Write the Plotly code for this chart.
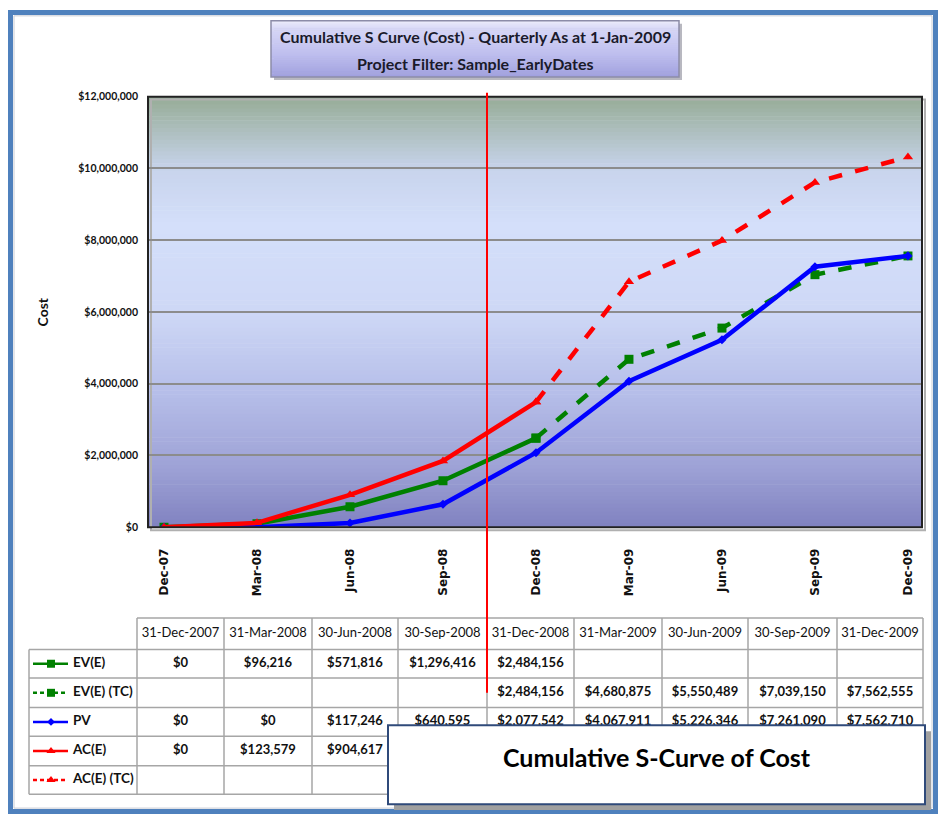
import plotly.graph_objects as go

# ---------------- data ----------------
x_labels = ["Dec-07", "Mar-08", "Jun-08", "Sep-08", "Dec-08", "Mar-09", "Jun-09", "Sep-09", "Dec-09"]
date_headers = ["31-Dec-2007", "31-Mar-2008", "30-Jun-2008", "30-Sep-2008", "31-Dec-2008",
                "31-Mar-2009", "30-Jun-2009", "30-Sep-2009", "31-Dec-2009"]
ev = [0, 96216, 571816, 1296416, 2484156, None, None, None, None]
ev_tc = [None, None, None, None, 2484156, 4680875, 5550489, 7039150, 7562555]
pv = [0, 0, 117246, 640595, 2077542, 4067911, 5226346, 7261090, 7562710]
ac = [0, 123579, 904617, 1850000, 3490000, None, None, None, None]
ac_tc = [None, None, None, None, 3490000, 6840000, 7990000, 9610000, 10320000]
series_names = ["EV(E)", "EV(E) (TC)", "PV", "AC(E)", "AC(E) (TC)"]
y_ticks = [0, 2000000, 4000000, 6000000, 8000000, 10000000, 12000000]
y_ticktext = ["$0", "$2,000,000", "$4,000,000", "$6,000,000", "$8,000,000", "$10,000,000", "$12,000,000"]
title_lines = ["Cumulative S Curve (Cost) - Quarterly As at 1-Jan-2009", "Project Filter: Sample_EarlyDates"]

W, H = 938, 821
FONT = "Lato, 'Open Sans', sans-serif"


def PX(x):
    return x / W


def PY(y):
    return 1 - y / H


# plot area in pixels
L, R, T, B = 148, 922, 92, 529

fig = go.Figure()

green, blue, red = "#008000", "#0000FF", "#FF0000"
styles = [
    (ev, green, "solid", "square", 9),
    (ev_tc, green, "dash", "square", 9),
    (pv, blue, "solid", "diamond", 7),
    (ac, red, "solid", "triangle-up", 9),
    (ac_tc, red, "dash", "triangle-up", 9),
]
for (vals, col, dash, sym, ms), name in zip(styles, series_names):
    fig.add_trace(go.Scatter(
        x=x_labels, y=vals, name=name, mode="lines+markers",
        line=dict(color=col, width=4.5, dash=dash),
        marker=dict(symbol=sym, size=ms, color=col),
        connectgaps=False, showlegend=False, xaxis="x", yaxis="y"))

shapes = []
# outer page border
shapes.append(dict(type="rect", xref="paper", yref="paper", x0=PX(10.5), x1=PX(935.5), y0=PY(6.5), y1=PY(817.5),
                   line=dict(color="#4F81BD", width=5), fillcolor="rgba(0,0,0,0)", layer="below"))
shapes.append(dict(type="rect", xref="paper", yref="paper", x0=PX(14), x1=PX(932), y0=PY(10), y1=PY(814),
                   line=dict(color="#C8CCD4", width=1), fillcolor="white", layer="below"))


def lerp(c1, c2, t):
    return tuple(int(round(a + (b - a) * t)) for a, b in zip(c1, c2))


def grad_color(stops, t):
    for i in range(len(stops) - 1):
        t0, c0 = stops[i]
        t1, c1 = stops[i + 1]
        if t0 <= t <= t1:
            return lerp(c0, c1, (t - t0) / (t1 - t0) if t1 > t0 else 0)
    return stops[-1][1]


# plot-area gradient
stops = [(0.0, (150, 172, 150)), (0.17, (200, 212, 236)), (0.30, (212, 223, 250)),
         (0.50, (206, 216, 246)), (0.70, (180, 188, 232)), (0.86, (158, 162, 214)), (1.0, (128, 130, 192))]
N = 110
for i in range(N):
    t = (i + 0.5) / N
    c = grad_color(stops, t)
    y0 = T + (B - T) * i / N
    y1 = T + (B - T) * (i + 1) / N + 0.6
    shapes.append(dict(type="rect", xref="paper", yref="paper", x0=PX(L), x1=PX(R), y0=PY(y0), y1=PY(min(y1, B)),
                       line=dict(width=0), fillcolor="rgb(%d,%d,%d)" % c, layer="below"))
# plot shadow + border
shapes.append(dict(type="rect", xref="paper", yref="paper", x0=PX(L + 3), x1=PX(R + 3), y0=PY(T + 3), y1=PY(B + 3),
                   line=dict(color="#B0B0B0", width=2), fillcolor="rgba(0,0,0,0)", layer="below"))
shapes.append(dict(type="rect", xref="paper", yref="paper", x0=PX(L), x1=PX(R), y0=PY(T), y1=PY(B),
                   line=dict(color="#222222", width=2), fillcolor="rgba(0,0,0,0)", layer="above"))

# title box gradient
TL, TR, TT, TB = 271, 679, 15, 72
shapes.append(dict(type="rect", xref="paper", yref="paper", x0=PX(TL + 3), x1=PX(TR + 3), y0=PY(TT + 3), y1=PY(TB + 3),
                   line=dict(width=0), fillcolor="#B8B8C0", layer="below"))
tstops = [(0.0, (236, 236, 250)), (0.15, (214, 214, 246)), (0.6, (190, 190, 238)), (1.0, (160, 160, 222))]
NT = 30
for i in range(NT):
    t = (i + 0.5) / NT
    c = grad_color(tstops, t)
    y0 = TT + (TB - TT) * i / NT
    y1 = TT + (TB - TT) * (i + 1) / NT + 0.6
    shapes.append(dict(type="rect", xref="paper", yref="paper", x0=PX(TL), x1=PX(TR), y0=PY(y0), y1=PY(min(y1, TB)),
                       line=dict(width=0), fillcolor="rgb(%d,%d,%d)" % c, layer="below"))
shapes.append(dict(type="rect", xref="paper", yref="paper", x0=PX(TL), x1=PX(TR), y0=PY(TT), y1=PY(TB),
                   line=dict(color="#8C8CA8", width=1.5), fillcolor="rgba(0,0,0,0)", layer="below"))

# table grid
col_edges = [29, 137, 224, 312, 398, 487, 574, 662, 748, 837, 923]
row_edges = [621, 653, 682, 712, 741, 771, 800]
gc = "#A6A6A6"
shapes.append(dict(type="line", xref="paper", yref="paper", x0=PX(col_edges[1]), x1=PX(col_edges[-1]),
                   y0=PY(row_edges[0]), y1=PY(row_edges[0]), line=dict(color=gc, width=1.5), layer="below"))
for r in row_edges[1:]:
    shapes.append(dict(type="line", xref="paper", yref="paper", x0=PX(col_edges[0]), x1=PX(col_edges[-1]),
                       y0=PY(r), y1=PY(r), line=dict(color=gc, width=1.5), layer="below"))
shapes.append(dict(type="line", xref="paper", yref="paper", x0=PX(col_edges[0]), x1=PX(col_edges[0]),
                   y0=PY(row_edges[1]), y1=PY(row_edges[-1]), line=dict(color=gc, width=1.5), layer="below"))
for c in col_edges[1:]:
    shapes.append(dict(type="line", xref="paper", yref="paper", x0=PX(c), x1=PX(c),
                       y0=PY(row_edges[0]), y1=PY(row_edges[-1]), line=dict(color=gc, width=1.5), layer="below"))

# "as at" marker line
shapes.append(dict(type="line", xref="paper", yref="paper", x0=PX(487), x1=PX(487), y0=PY(88), y1=PY(697),
                   line=dict(color="#FF0000", width=2), layer="above"))

# overlay caption box (covers part of the table)
BL, BR, BT, BB = 388, 925, 730, 810
shapes.append(dict(type="rect", xref="paper", yref="paper", x0=PX(BL + 6), x1=PX(BR + 6), y0=PY(BT + 6), y1=PY(BB + 6),
                   line=dict(width=0), fillcolor="#A0A0A0", layer="above"))
shapes.append(dict(type="rect", xref="paper", yref="paper", x0=PX(BL), x1=PX(BR), y0=PY(BT), y1=PY(BB),
                   line=dict(color="#2F4A7A", width=2), fillcolor="white", layer="above"))

# ---------------- table text (x2/y2 in pixel space) ----------------
col_centers = [(col_edges[i] + col_edges[i + 1]) / 2 for i in range(1, len(col_edges) - 1)]
row_centers = [(row_edges[i] + row_edges[i + 1]) / 2 for i in range(len(row_edges) - 1)]

fig.add_trace(go.Scatter(x=col_centers, y=[row_centers[0]] * len(date_headers), text=date_headers,
                         mode="text", textfont=dict(family=FONT, size=13, color="#111111"),
                         xaxis="x2", yaxis="y2", showlegend=False, hoverinfo="skip", cliponaxis=False))


def fmt(v):
    return "" if v is None else "${:,.0f}".format(v)


table_series = [ev, ev_tc, pv, ac, ac_tc]
for ri, vals in enumerate(table_series):
    xs, ys, ts = [], [], []
    for ci, v in enumerate(vals):
        if v is None:
            continue
        xs.append(col_centers[ci])
        ys.append(row_centers[ri + 1])
        ts.append(fmt(v))
    fig.add_trace(go.Scatter(x=xs, y=ys, text=ts, mode="text",
                             textfont=dict(family=FONT, size=13, color="#111111", weight="bold"),
                             xaxis="x2", yaxis="y2", showlegend=False, hoverinfo="skip", cliponaxis=False))

# legend samples in the table
for ri, ((vals, col, dash, sym, ms), name) in enumerate(zip(styles, series_names)):
    yc = row_centers[ri + 1]
    fig.add_trace(go.Scatter(x=[33, 51, 68], y=[yc, yc, yc], mode="lines",
                             line=dict(color=col, width=2.5, dash="4px,3px" if dash == "dash" else "solid"),
                             xaxis="x2", yaxis="y2", showlegend=False, hoverinfo="skip", cliponaxis=False))
    fig.add_trace(go.Scatter(x=[51], y=[yc], mode="markers",
                             marker=dict(symbol=sym, size=ms - 1, color=col),
                             xaxis="x2", yaxis="y2", showlegend=False, hoverinfo="skip", cliponaxis=False))
    fig.add_trace(go.Scatter(x=[73], y=[yc], text=[name], mode="text", textposition="middle right",
                             textfont=dict(family=FONT, size=13.5, color="#111111", weight="bold"),
                             xaxis="x2", yaxis="y2", showlegend=False, hoverinfo="skip", cliponaxis=False))

annotations = [
    dict(xref="paper", yref="paper", x=PX((TL + TR) / 2), y=PY(31), showarrow=False,
         xanchor="center", yanchor="middle", text="<b>%s</b>" % title_lines[0],
         font=dict(family=FONT, size=16, color="#1A1A2A")),
    dict(xref="paper", yref="paper", x=PX((TL + TR) / 2), y=PY(58), showarrow=False,
         xanchor="center", yanchor="middle", text="<b>%s</b>" % title_lines[1],
         font=dict(family=FONT, size=16, color="#1A1A2A")),
    dict(xref="paper", yref="paper", x=PX(42), y=PY(311), showarrow=False, textangle=-90,
         xanchor="center", yanchor="middle",
         text="<b>Cost</b>", font=dict(family=FONT, size=14, color="#111111")),
    dict(xref="paper", yref="paper", x=PX(657), y=PY(762), showarrow=False,
         xanchor="center", yanchor="middle",
         text="<b>Cumulative S-Curve of Cost</b>", font=dict(family=FONT, size=25, color="#000000")),
]

fig.update_layout(
    width=W, height=H, autosize=False,
    margin=dict(l=0, r=0, t=0, b=0, pad=0),
    paper_bgcolor="white", plot_bgcolor="rgba(0,0,0,0)",
    shapes=shapes, annotations=annotations, showlegend=False,
    xaxis=dict(domain=[PX(L), PX(R)], type="category", categoryorder="array", categoryarray=x_labels,
               range=[-0.172, 8.151], tickangle=-90, showgrid=False, zeroline=False, showline=False,
               ticks="", ticklabelstandoff=18,
               tickfont=dict(family="'DejaVu Sans', Verdana, sans-serif", size=12, color="#111111", weight="bold"),
               anchor="y", fixedrange=True),
    yaxis=dict(domain=[PY(B), PY(T)], range=[0, 12000000], tickvals=y_ticks, ticktext=y_ticktext,
               showgrid=True, gridcolor="#8C8C8C", gridwidth=1.5, zeroline=False, showline=False,
               ticks="", ticklabelstandoff=9,
               tickfont=dict(family=FONT, size=10.5, color="#111111", weight="bold"),
               anchor="x", fixedrange=True),
    xaxis2=dict(domain=[0, 1], range=[0, W], visible=False, anchor="y2", fixedrange=True),
    yaxis2=dict(domain=[0, 1], range=[H, 0], visible=False, anchor="x2", fixedrange=True),
)

fig.write_html("out.html", config={"displayModeBar": False},
               post_script="document.body.style.margin='0';")
